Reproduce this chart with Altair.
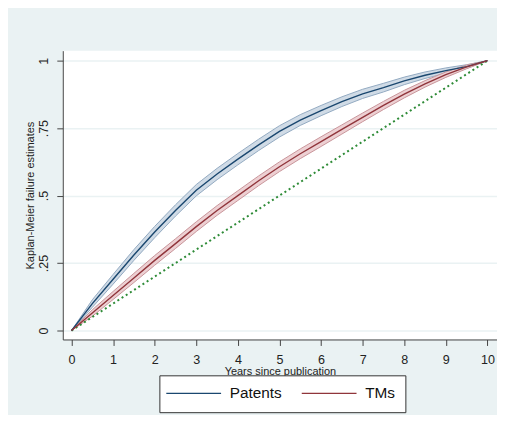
import altair as alt
import pandas as pd

# ---- data ----
years = [0, 0.5, 1, 1.5, 2, 2.5, 3, 3.5, 4, 4.5, 5, 5.5, 6, 6.5, 7, 7.5, 8, 8.5, 9, 9.5, 10]
patents = [0, 0.10, 0.19, 0.28, 0.365, 0.445, 0.52, 0.58, 0.635, 0.688, 0.738, 0.78,
           0.815, 0.848, 0.877, 0.90, 0.925, 0.946, 0.963, 0.978, 1.0]
patents_ci = [0, 0.014, 0.018, 0.020, 0.021, 0.021, 0.021, 0.021, 0.021, 0.021, 0.021,
              0.020, 0.019, 0.018, 0.017, 0.016, 0.014, 0.012, 0.010, 0.007, 0]
tms = [0, 0.065, 0.13, 0.195, 0.26, 0.322, 0.385, 0.445, 0.50, 0.555, 0.607, 0.655,
       0.70, 0.745, 0.79, 0.834, 0.876, 0.914, 0.948, 0.977, 1.0]
tms_ci = [0, 0.012, 0.015, 0.017, 0.018, 0.018, 0.018, 0.018, 0.018, 0.018, 0.018,
          0.018, 0.018, 0.017, 0.016, 0.015, 0.014, 0.012, 0.010, 0.007, 0]
diag_x = [0, 10]
diag_y = [0, 1]

series_names = ["Patents", "TMs"]
line_colors = ["#1A476F", "#90353B"]
band_fill = ["#D0DBE6", "#EDD0D3"]
band_edge = ["#93AAC2", "#C9959A"]

x_ticks = list(range(0, 11))
y_ticks = [0, 0.25, 0.5, 0.75, 1]
y_tick_labels = ["0", ".25", ".5", ".75", "1"]

# ---- tables ----
rows = []
for name, vals, ci in [("Patents", patents, patents_ci), ("TMs", tms, tms_ci)]:
    for t, v, c in zip(years, vals, ci):
        rows.append({"series": name, "year": t, "value": v, "lo": v - c, "hi": v + c})
df = pd.DataFrame(rows)
diag = pd.DataFrame({"year": diag_x, "value": diag_y})

font = "Liberation Sans"
label_expr = " : ".join(
    f"datum.value == {v} ? '{l}'" for v, l in zip(y_ticks, y_tick_labels)
) + " : ''"

xscale = alt.Scale(domain=[-0.21, 10.23], nice=False, zero=False)
yscale = alt.Scale(domain=[-0.033, 1.037], nice=False, zero=False)

x_axis = alt.Axis(values=x_ticks, format="d", title="Years since publication",
                  grid=False, labelFont=font, labelFontSize=12.6, labelColor="#222222",
                  labelPadding=8, tickSize=6, tickColor="#444444", domainColor="#444444",
                  titleFont=font, titleFontSize=11, titleFontWeight="normal",
                  titleColor="#222222", titlePadding=0)
y_axis = alt.Axis(values=y_ticks, labelExpr=label_expr,
                  title="Kaplan-Meier failure estimates",
                  grid=True, gridColor="#EAF2F3", gridWidth=1.5,
                  labelFont=font, labelFontSize=12.6, labelColor="#222222",
                  labelAngle=270, labelAlign="center", labelBaseline="bottom",
                  labelPadding=6, tickSize=6, tickColor="#444444", domainColor="#444444",
                  titleFont=font, titleFontSize=11, titleFontWeight="normal",
                  titleColor="#222222", titlePadding=2)

layers = []
for i, name in enumerate(series_names):
    sub = df[df["series"] == name]
    band = alt.Chart(sub).mark_area(
        color=band_fill[i], stroke=band_edge[i], strokeWidth=1
    ).encode(
        x=alt.X("year:Q", scale=xscale, axis=x_axis),
        y=alt.Y("lo:Q", scale=yscale, axis=y_axis),
        y2="hi:Q",
    )
    layers.append(band)

diag_line = alt.Chart(diag).mark_line(
    color="#2E8B37", strokeWidth=2, strokeDash=[2, 3]
).encode(
    x=alt.X("year:Q", scale=xscale),
    y=alt.Y("value:Q", scale=yscale),
)
layers.append(diag_line)

lines = alt.Chart(df).mark_line(strokeWidth=1.4).encode(
    x=alt.X("year:Q", scale=xscale),
    y=alt.Y("value:Q", scale=yscale),
    color=alt.Color("series:N",
                    scale=alt.Scale(domain=series_names, range=line_colors),
                    legend=alt.Legend(
                        title=None, orient="none", legendX=97, legendY=326,
                        direction="horizontal", symbolType="M-10,0H10",
                        symbolSize=30.25, symbolStrokeWidth=1.3, symbolOffset=16.75,
                        labelFont=font, labelFontSize=15.4, labelColor="#111111",
                        labelOffset=28.5, columnPadding=17, padding=10,
                        fillColor="#FFFFFF", strokeColor="#333333")),
)
layers.append(lines)

chart = alt.layer(*layers).properties(
    width=436, height=290,
    background="#EAF2F3",
    padding={"left": 55, "top": 42, "right": 0, "bottom": 75},
    autosize=alt.AutoSizeParams(type="none"),
).configure_view(fill="#FFFFFF", stroke=None)

chart.save("out.html", embed_options={"renderer": "svg", "actions": False})
